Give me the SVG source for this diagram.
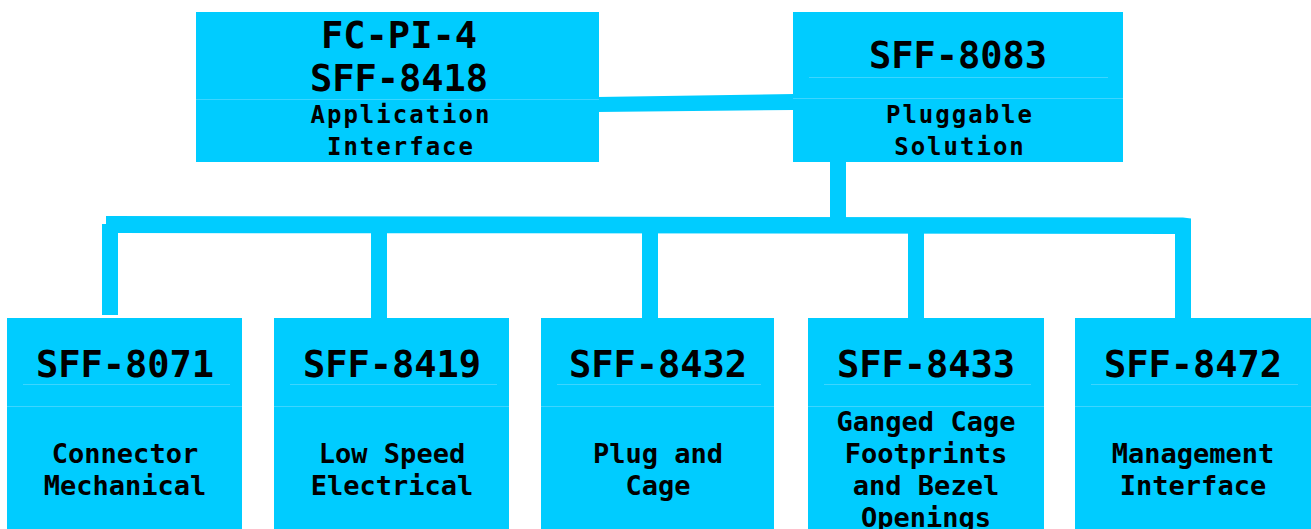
<svg xmlns="http://www.w3.org/2000/svg" width="1311" height="529" viewBox="0 0 1311 529">
<style>
.box{fill:#00CCFF}
.rule{stroke:#3DD5FF;stroke-width:1;fill:none}
.conn{fill:#00CCFF}
text{font-family:"DejaVu Sans Mono","Liberation Mono",monospace;font-weight:bold;fill:#000;text-anchor:middle}
.t{font-size:37px}
.s{font-size:24px;letter-spacing:2px}
.b{font-size:27px}
</style>
<rect width="1311" height="529" fill="#FFFFFF"/>
<g id="connectors">
<polygon class="conn" points="597,97 794,94 794,110 597,112"/>
<rect class="conn" x="830" y="160" width="16" height="58"/>
<path class="conn" d="M106,216 L1183,217.5 L1191,218.5 L1191,319 L1175,319 L1175,234 L118,233 L118,315 L102,315 L102,224 L106,224 Z"/>
<rect class="conn" x="371" y="232" width="16" height="87"/>
<rect class="conn" x="642" y="232" width="16" height="87"/>
<rect class="conn" x="908" y="232" width="16" height="87"/>
</g>
<g id="node-fcpi4">
<rect class="box" x="196" y="12" width="403" height="150"/>
<line class="rule" x1="196" y1="99.5" x2="599" y2="99.5"/>
<text class="t" x="399" y="48">FC-PI-4</text>
<text class="t" x="399" y="91">SFF-8418</text>
<text class="s" x="401" y="123">Application</text>
<text class="s" x="401" y="155">Interface</text>
</g>
<g id="node-sff8083">
<rect class="box" x="793" y="12" width="330" height="150"/>
<line class="rule" x1="809" y1="77.5" x2="1108" y2="77.5"/>
<line class="rule" x1="793" y1="98.5" x2="1123" y2="98.5"/>
<text class="t" x="958" y="68">SFF-8083</text>
<text class="s" x="960" y="123">Pluggable</text>
<text class="s" x="960" y="155">Solution</text>
</g>
<g id="node-sff8071">
<rect class="box" x="7" y="318" width="235" height="211"/>
<line class="rule" x1="23" y1="384.5" x2="230" y2="384.5"/>
<line class="rule" x1="7" y1="406.5" x2="242" y2="406.5"/>
<text class="t" x="125" y="377">SFF-8071</text>
<text class="b" x="125" y="463">Connector</text>
<text class="b" x="125" y="495">Mechanical</text>
</g>
<g id="node-sff8419">
<rect class="box" x="274" y="318" width="235" height="211"/>
<line class="rule" x1="290" y1="384.5" x2="497" y2="384.5"/>
<line class="rule" x1="274" y1="406.5" x2="509" y2="406.5"/>
<text class="t" x="392" y="377">SFF-8419</text>
<text class="b" x="392" y="463">Low Speed</text>
<text class="b" x="392" y="495">Electrical</text>
</g>
<g id="node-sff8432">
<rect class="box" x="541" y="318" width="233" height="211"/>
<line class="rule" x1="557" y1="384.5" x2="761" y2="384.5"/>
<line class="rule" x1="541" y1="406.5" x2="774" y2="406.5"/>
<text class="t" x="658" y="377">SFF-8432</text>
<text class="b" x="658" y="463">Plug and</text>
<text class="b" x="658" y="495">Cage</text>
</g>
<g id="node-sff8433">
<rect class="box" x="808" y="318" width="236" height="211"/>
<line class="rule" x1="824" y1="384.5" x2="1031" y2="384.5"/>
<line class="rule" x1="808" y1="406.5" x2="1044" y2="406.5"/>
<text class="t" x="926" y="377">SFF-8433</text>
<text class="b" x="926" y="431">Ganged Cage</text>
<text class="b" x="926" y="463">Footprints</text>
<text class="b" x="926" y="495">and Bezel</text>
<text class="b" x="926" y="527">Openings</text>
</g>
<g id="node-sff8472">
<rect class="box" x="1075" y="318" width="236" height="211"/>
<line class="rule" x1="1091" y1="384.5" x2="1298" y2="384.5"/>
<line class="rule" x1="1075" y1="406.5" x2="1311" y2="406.5"/>
<text class="t" x="1193" y="377">SFF-8472</text>
<text class="b" x="1193" y="463">Management</text>
<text class="b" x="1193" y="495">Interface</text>
</g>
</svg>
